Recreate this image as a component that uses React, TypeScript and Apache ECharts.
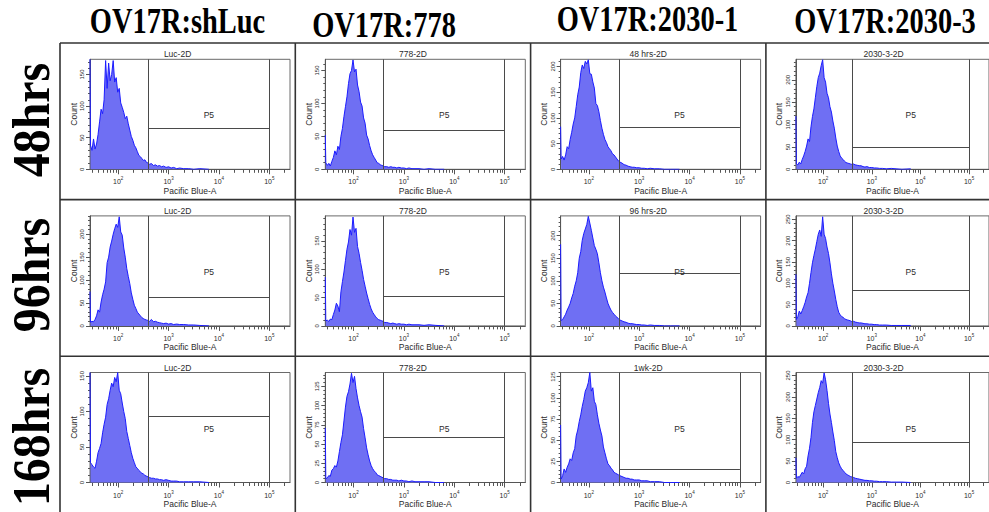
import React, { useEffect, useRef } from "react";
import * as echarts from "echarts";

// ---------- data ----------
const colHeaders = ["OV17R:shLuc", "OV17R:778", "OV17R:2030-1", "OV17R:2030-3"];
const rowHeaders = ["48hrs", "96hrs", "168hrs"];
const panelTitles = [
  "Luc-2D", "778-2D", "48 hrs-2D", "2030-3-2D",
  "Luc-2D", "778-2D", "96 hrs-2D", "2030-3-2D",
  "Luc-2D", "778-2D", "1wk-2D", "2030-3-2D",
];
const yMax = [174, 167, 214, 246, 240, 194, 244, 258, 155, 143, 130, 257];
const yTicks = [
  [0, 50, 100, 150], [0, 50, 100, 150], [0, 50, 100, 150, 200], [0, 50, 100, 150, 200],
  [0, 50, 100, 150, 200], [0, 50, 100, 150], [0, 50, 100, 150, 200], [0, 50, 100, 150, 200, 250],
  [0, 50, 100, 150], [0, 25, 50, 75, 100, 125], [0, 25, 50, 75, 100, 125], [0, 50, 100, 150, 200, 250],
];
const gateLevel = [65, 60, 82, 49, 62, 53, 117, 84, 94, 59, 16, 93];
const gateName = "P5";
const gateLow = 2.6; // log10 of Pacific Blue-A
const gateHigh = 5.0;
const xExponents = [2, 3, 4, 5];
const xName = "Pacific Blue-A";
const yName = "Count";

// histogram bin centres (log10 of Pacific Blue-A)
const binsLog = [
  1.44, 1.45, 1.48, 1.51, 1.54, 1.57, 1.60, 1.63, 1.66, 1.69,
  1.72, 1.75, 1.78, 1.81, 1.84, 1.87, 1.90, 1.93, 1.96, 1.99,
  2.02, 2.05, 2.08, 2.11, 2.14, 2.17, 2.20, 2.23, 2.26, 2.29,
  2.32, 2.35, 2.38, 2.41, 2.44, 2.47, 2.50, 2.53, 2.56, 2.59,
  2.62, 2.66, 2.70, 2.74, 2.78, 2.82, 2.86, 2.90, 2.95, 3.00,
  3.05, 3.10, 3.16, 3.22, 3.30, 3.40, 3.50, 3.62, 3.80,
];

const shLuc48 = [174, 38, 30, 48, 32, 40, 55, 75, 95, 88,
  110, 172, 128, 168, 140, 150, 172, 138, 145, 122,
  128, 105, 98, 90, 80, 84, 72, 62, 52, 46,
  38, 34, 28, 22, 20, 17, 14, 15, 11, 10,
  8, 9, 6, 7, 5, 6, 4, 5, 3, 4,
  2, 3, 1, 2, 1, 1, 0, 1, 0];
const r778_48 = [52, 10, 6, 9, 5, 12, 18, 28, 22, 35,
  30, 50, 62, 80, 95, 110, 130, 145, 150, 166,
  148, 152, 128, 118, 102, 96, 78, 70, 52, 46,
  36, 28, 22, 18, 14, 10, 9, 7, 6, 5,
  4, 4, 3, 4, 3, 3, 2, 3, 2, 2,
  1, 2, 1, 1, 1, 0, 1, 0, 0];
const r2030_1_48 = [83, 20, 25, 18, 28, 44, 40, 58, 72, 88,
  100, 122, 145, 160, 188, 203, 196, 210, 205, 213,
  186, 185, 170, 158, 128, 124, 112, 95, 80, 68,
  58, 52, 44, 40, 36, 30, 28, 24, 20, 16,
  14, 12, 9, 8, 6, 5, 4, 4, 3, 3,
  2, 2, 1, 2, 1, 1, 0, 0, 0];
const r2030_3_48 = [119, 12, 10, 16, 12, 22, 30, 40, 52, 68,
  62, 95, 118, 135, 160, 185, 205, 215, 232, 245,
  205, 195, 170, 160, 140, 128, 108, 92, 70, 52,
  40, 30, 25, 22, 18, 15, 14, 13, 12, 11,
  12, 10, 9, 8, 8, 6, 5, 6, 4, 4,
  3, 3, 2, 2, 1, 2, 1, 0, 1];
const shLuc96 = [75, 8, 10, 9, 14, 22, 35, 30, 52, 68,
  80, 96, 138, 150, 172, 185, 200, 212, 222, 215,
  238, 205, 198, 170, 150, 125, 108, 92, 72, 58,
  45, 38, 30, 26, 22, 18, 16, 14, 13, 12,
  10, 14, 9, 10, 8, 7, 6, 5, 6, 4,
  5, 3, 4, 3, 3, 2, 2, 1, 0];
const r778_96 = [86, 9, 10, 8, 12, 11, 20, 28, 40, 35,
  25, 60, 78, 95, 115, 135, 148, 170, 160, 192,
  165, 172, 140, 128, 112, 98, 82, 70, 58, 48,
  38, 30, 24, 20, 16, 13, 11, 10, 9, 8,
  6, 6, 5, 4, 5, 4, 3, 4, 3, 3,
  2, 3, 2, 2, 2, 1, 2, 1, 0];
const r2030_1_96 = [181, 12, 14, 20, 26, 35, 42, 50, 62, 72,
  88, 100, 118, 150, 165, 190, 205, 215, 225, 243,
  228, 212, 195, 178, 170, 160, 140, 118, 100, 86,
  75, 62, 50, 42, 35, 30, 26, 22, 19, 16,
  13, 11, 9, 8, 6, 5, 5, 4, 3, 3,
  2, 2, 1, 2, 1, 1, 0, 0, 0];
const r2030_3_96 = [121, 15, 22, 35, 28, 36, 45, 55, 68, 78,
  100, 125, 148, 165, 180, 198, 215, 225, 210, 256,
  215, 205, 185, 170, 148, 122, 100, 82, 62, 45,
  32, 26, 22, 20, 17, 15, 14, 13, 12, 10,
  11, 9, 8, 7, 7, 6, 5, 5, 4, 4,
  3, 3, 2, 2, 2, 1, 1, 1, 1];
const shLuc168 = [155, 28, 25, 22, 20, 30, 42, 48, 55, 70,
  82, 92, 110, 118, 130, 140, 135, 148, 142, 155,
  130, 125, 112, 100, 90, 72, 62, 52, 42, 34,
  28, 22, 20, 17, 15, 13, 12, 10, 9, 8,
  7, 6, 6, 5, 5, 4, 4, 3, 4, 3,
  2, 2, 2, 1, 1, 1, 1, 1, 0];
const r778_168 = [71, 5, 6, 9, 8, 16, 18, 22, 20, 28,
  40, 52, 62, 80, 98, 112, 118, 128, 142, 130,
  138, 122, 110, 100, 92, 85, 70, 58, 45, 36,
  28, 22, 18, 15, 13, 10, 9, 8, 7, 6,
  5, 5, 4, 4, 3, 3, 3, 2, 3, 2,
  2, 1, 2, 1, 1, 1, 1, 0, 0];
const r2030_1_168 = [68, 4, 8, 16, 12, 18, 22, 28, 26, 35,
  40, 55, 62, 72, 80, 90, 98, 108, 112, 118,
  130, 108, 112, 96, 92, 80, 70, 62, 55, 42,
  35, 28, 22, 20, 17, 15, 12, 11, 10, 9,
  8, 7, 6, 5, 5, 4, 4, 3, 3, 3,
  2, 2, 2, 1, 1, 1, 0, 0, 0];
const r2030_3_168 = [58, 10, 14, 12, 18, 24, 20, 32, 38, 62,
  80, 105, 140, 165, 180, 195, 210, 222, 238, 232,
  256, 240, 215, 185, 160, 140, 118, 98, 72, 58,
  46, 38, 32, 28, 24, 20, 18, 16, 14, 13,
  12, 10, 9, 8, 7, 6, 5, 5, 4, 4,
  3, 3, 2, 2, 2, 1, 1, 1, 0];

const panelCounts = [
  shLuc48, r778_48, r2030_1_48, r2030_3_48,
  shLuc96, r778_96, r2030_1_96, r2030_3_96,
  shLuc168, r778_168, r2030_1_168, r2030_3_168,
];

// ---------- layout ----------
const W = 989;
const H = 512;
const COL_X = [60, 295.3, 530.6, 765.9];
const ROW_Y = [43, 199.6, 356.2];
const X_MIN = 1.44;
const X_MAX = 5.41;
const SANS = "'Liberation Sans', Arial, sans-serif";
const SERIF = "'Liberation Serif', 'Times New Roman', serif";
const AXIS_COLOR = "#555";
const TEXT_COLOR = "#2b2b2b";

function minorXTicks(): number[] {
  const out: number[] = [];
  for (let n = 1; n <= 5; n++) {
    for (let k = 2; k <= 9; k++) {
      const v = n + Math.log10(k);
      if (v > X_MIN && v < X_MAX) out.push(v);
    }
  }
  return out;
}

function minorYTicks(ticks: number[], max: number): number[] {
  const step = (ticks[1] - ticks[0]) / 5;
  const out: number[] = [];
  for (let v = 0; v <= max + 1e-6; v += step) out.push(Math.round(v * 100) / 100);
  return out;
}

function buildOption() {
  const grid: any[] = [];
  const xAxis: any[] = [];
  const yAxis: any[] = [];
  const series: any[] = [];
  const graphic: any[] = [];
  const minorX = minorXTicks();

  panelCounts.forEach((counts, i) => {
    const c = i % 4;
    const r = Math.floor(i / 4);
    const left = COL_X[c] + 30;
    const top = ROW_Y[r] + 16.3;
    const ymax = yMax[i];

    grid.push({
      left, top, width: 200, height: 110,
      show: true, borderColor: "#6a6a6a", borderWidth: 1, backgroundColor: "transparent",
      containLabel: false,
    });

    xAxis.push({
      gridIndex: i, type: "value", min: X_MIN, max: X_MAX, position: "bottom",
      axisLine: { show: true, onZero: false, lineStyle: { color: AXIS_COLOR, width: 1 } },
      axisTick: { show: true, length: 5, customValues: xExponents, lineStyle: { color: AXIS_COLOR, width: 1 } },
      axisLabel: {
        show: true, customValues: xExponents, margin: 7,
        formatter: (v: number) => `{b|10}{s|${Math.round(v)}}`,
        rich: {
          b: { fontSize: 7, color: TEXT_COLOR, fontFamily: SANS, lineHeight: 9, verticalAlign: "bottom" },
          s: { fontSize: 4.5, color: TEXT_COLOR, fontFamily: SANS, lineHeight: 5, verticalAlign: "top" },
        },
      },
      splitLine: { show: false },
      name: xName, nameLocation: "middle", nameGap: 17,
      nameTextStyle: { fontSize: 8.5, color: TEXT_COLOR, fontFamily: SANS },
    });
    xAxis.push({
      gridIndex: i, type: "value", min: X_MIN, max: X_MAX, position: "bottom",
      axisLine: { show: false, onZero: false },
      axisTick: { show: true, length: 3.5, customValues: minorX, lineStyle: { color: AXIS_COLOR, width: 1 } },
      axisLabel: { show: false },
      splitLine: { show: false },
    });

    yAxis.push({
      gridIndex: i, type: "value", min: 0, max: ymax, position: "left",
      axisLine: { show: true, onZero: false, lineStyle: { color: AXIS_COLOR, width: 1 } },
      axisTick: { show: true, length: 4, customValues: yTicks[i], lineStyle: { color: AXIS_COLOR, width: 1 } },
      axisLabel: {
        show: true, customValues: yTicks[i], rotate: 90, margin: 5,
        fontSize: 6, color: TEXT_COLOR, fontFamily: SANS,
      },
      splitLine: { show: false },
      name: yName, nameLocation: "middle", nameGap: 12,
      nameTextStyle: { fontSize: 8.5, color: TEXT_COLOR, fontFamily: SANS },
    });
    yAxis.push({
      gridIndex: i, type: "value", min: 0, max: ymax, position: "left",
      axisLine: { show: false, onZero: false },
      axisTick: { show: true, length: 2, customValues: minorYTicks(yTicks[i], ymax), lineStyle: { color: AXIS_COLOR, width: 1 } },
      axisLabel: { show: false },
      splitLine: { show: false },
    });

    series.push({
      type: "line",
      xAxisIndex: 2 * i,
      yAxisIndex: 2 * i,
      data: binsLog.map((x, k) => [x, counts[k]]),
      symbol: "none",
      silent: true,
      clip: true,
      lineStyle: { color: "#1c1cff", width: 1 },
      areaStyle: { color: "#6f6ff3", opacity: 1 },
      markLine: {
        silent: true,
        symbol: ["none", "none"],
        label: { show: false },
        lineStyle: { color: "#4a4a4a", width: 1, type: "solid" },
        emphasis: { disabled: true },
        data: [
          [{ coord: [gateLow, 0] }, { coord: [gateLow, ymax] }],
          [{ coord: [gateHigh, 0] }, { coord: [gateHigh, ymax] }],
          [{ coord: [gateLow, gateLevel[i]] }, { coord: [gateHigh, gateLevel[i]] }],
        ],
      },
      markPoint: {
        silent: true,
        symbol: "rect",
        symbolSize: 1,
        itemStyle: { color: "rgba(0,0,0,0)" },
        label: { show: true, position: "inside", formatter: gateName, color: TEXT_COLOR, fontSize: 8.5, fontFamily: SANS },
        data: [{ coord: [(gateLow + gateHigh) / 2, ymax * 0.49] }],
      },
    });

    graphic.push({
      type: "text", x: COL_X[c] + 117.6, y: top - 5, silent: true,
      style: { text: panelTitles[i], fontSize: 8.5, fontFamily: SANS, fill: TEXT_COLOR, textAlign: "center", textVerticalAlign: "middle" },
    });
  });

  // frame lines
  const frame = { stroke: "#333", lineWidth: 1.6 };
  graphic.push({ type: "line", silent: true, shape: { x1: 60, y1: 43, x2: W, y2: 43 }, style: frame });
  ROW_Y.slice(1).forEach((y) => graphic.push({ type: "line", silent: true, shape: { x1: 60, y1: y, x2: W, y2: y }, style: frame }));
  COL_X.forEach((x) => graphic.push({ type: "line", silent: true, shape: { x1: x, y1: 43, x2: x, y2: H }, style: frame }));

  // column headers
  const headerX = [177.5, 384, 647.5, 885];
  const headerY = [21, 24.5, 19, 21];
  colHeaders.forEach((t, k) => {
    graphic.push({
      type: "text", x: headerX[k], y: headerY[k], scaleX: 0.79, scaleY: 1, silent: true,
      style: { text: t, fontSize: 36, fontWeight: "bold", fontFamily: SERIF, fill: "#000", textAlign: "center", textVerticalAlign: "middle" },
    });
  });

  // row headers
  const rowCY = [120, 275, 437];
  rowHeaders.forEach((t, k) => {
    graphic.push({
      type: "text", x: 31, y: rowCY[k], rotation: Math.PI / 2, scaleX: 0.92, scaleY: 1, silent: true,
      style: { text: t, fontSize: 52, fontWeight: "bold", fontFamily: SERIF, fill: "#000", textAlign: "center", textVerticalAlign: "middle" },
    });
  });

  return {
    animation: false,
    backgroundColor: "#fff",
    grid, xAxis, yAxis, series, graphic,
  };
}

export default function App() {
  const ref = useRef<HTMLDivElement>(null);
  useEffect(() => {
    if (!ref.current) return;
    const chart = echarts.init(ref.current, undefined, { renderer: "svg" });
    chart.setOption(buildOption() as any);
    return () => chart.dispose();
  }, []);
  return (
    <div
      ref={ref}
      style={{ position: "fixed", left: 0, top: 0, width: W, height: H, background: "#fff" }}
    />
  );
}
